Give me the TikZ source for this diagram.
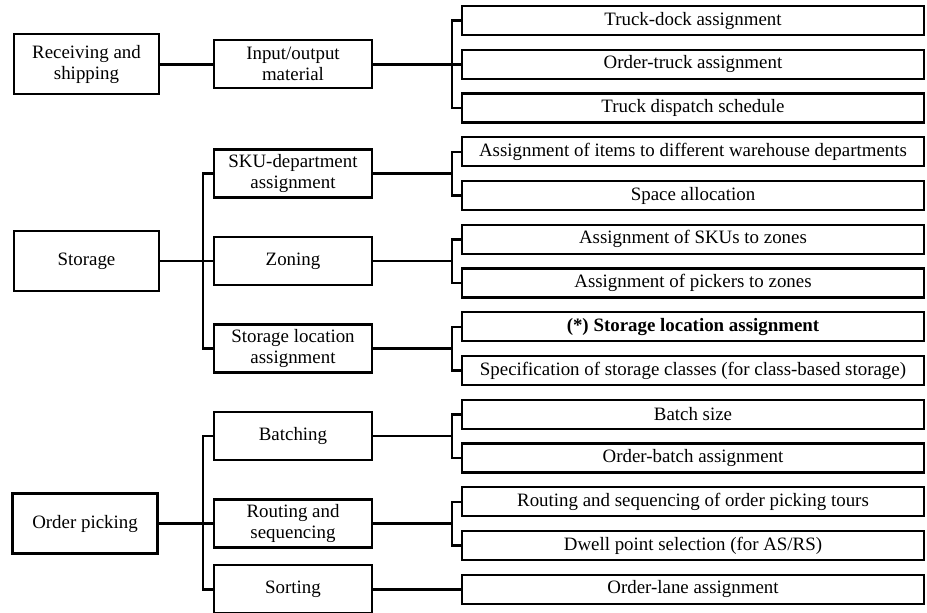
\documentclass[tikz,border=0pt]{standalone}
\usepackage{fontspec}
\setmainfont{Liberation Serif}
\usepackage{tikz}
\usetikzlibrary{positioning}

\begin{document}
\begin{tikzpicture}[x=1pt, y=-1pt,
    catbox/.style={draw, line width=2.3pt, inner sep=0pt, minimum width=145pt, minimum height=60pt, align=center},
    subbox/.style={draw, line width=2.3pt, inner sep=0pt, minimum width=158pt, minimum height=48pt, align=center},
    taskbox/.style={draw, line width=2.3pt, inner sep=0pt, minimum width=462pt, minimum height=29pt},
    link/.style={line width=2.5pt},
    font=\fontsize{18.9}{21}\selectfont]
    \useasboundingbox (0,0) rectangle (927,613);

    % Draw task boxes (right column)
    \node[taskbox] (td)  at (693,20.5)  {Truck-dock assignment};
    \node[taskbox] (ot)  at (693,64.3)  {Order-truck assignment};
    \node[taskbox] (tds) at (693,108)   {Truck dispatch schedule};
    \node[taskbox] (aid) at (693,151.8) {Assignment of items to different warehouse departments};
    \node[taskbox] (spa) at (693,195.5) {Space allocation};
    \node[taskbox] (asz) at (693,239.3) {Assignment of SKUs to zones};
    \node[taskbox] (apz) at (693,283)   {Assignment of pickers to zones};
    \node[taskbox] (sla) at (693,326.8) {\bfseries (*) Storage location assignment};
    \node[taskbox] (ssc) at (693,370.5) {Specification of storage classes (for class-based storage)};
    \node[taskbox] (bs)  at (693,414.3) {Batch size};
    \node[taskbox] (oba) at (693,458)   {Order-batch assignment};
    \node[taskbox] (rso) at (693,501.8) {Routing and sequencing of order picking tours};
    \node[taskbox] (dps) at (693,545.5) {Dwell point selection (for AS/RS)};
    \node[taskbox] (ola) at (693,589.3) {Order-lane assignment};

    % Draw problem boxes (middle column)
    \node[subbox] (io)   at (293,64.3)  {Input/output\\material};
    \node[subbox] (sku)  at (293,173.6) {SKU-department\\assignment};
    \node[subbox] (zon)  at (293,261.1) {Zoning};
    \node[subbox] (sloc) at (293,348.6) {Storage location\\assignment};
    \node[subbox] (bat)  at (293,436.1) {Batching};
    \node[subbox] (rout) at (293,523.6) {Routing and\\sequencing};
    \node[subbox] (sort) at (293,589.3) {Sorting};

    % Draw function boxes (left column)
    \node[catbox] (rs)   at (86.5,64.3)  {Receiving and\\shipping};
    \node[catbox] (stor) at (86.5,261.1) {Storage};
    \node[catbox] (op)   at (85,523.6)   {Order picking};

    % Left brackets
    \draw[link] (rs.east) -- (io.west);
    \draw[link] (sku.west) -- ++(-10,0) |- (sloc.west);
    \draw[link] (stor.east) -- (zon.west);
    \draw[link] (bat.west) -- ++(-10,0) |- (sort.west);
    \draw[link] (op.east) -- (rout.west);

    % Right brackets
    \draw[link] (td.west) -- ++(-9,0) coordinate (j1) |- (tds.west);
    \draw[link] (io.east) -- (ot.west);
    \draw[link] (aid.west) -- ++(-9,0) coordinate (j2) |- (spa.west);
    \draw[link] (sku.east) -- (sku.east -| j2);
    \draw[link] (asz.west) -- ++(-9,0) coordinate (j3) |- (apz.west);
    \draw[link] (zon.east) -- (zon.east -| j3);
    \draw[link] (sla.west) -- ++(-9,0) coordinate (j4) |- (ssc.west);
    \draw[link] (sloc.east) -- (sloc.east -| j4);
    \draw[link] (bs.west) -- ++(-9,0) coordinate (j5) |- (oba.west);
    \draw[link] (bat.east) -- (bat.east -| j5);
    \draw[link] (rso.west) -- ++(-9,0) coordinate (j6) |- (dps.west);
    \draw[link] (rout.east) -- (rout.east -| j6);
    \draw[link] (sort.east) -- (ola.west);
\end{tikzpicture}
\end{document}
